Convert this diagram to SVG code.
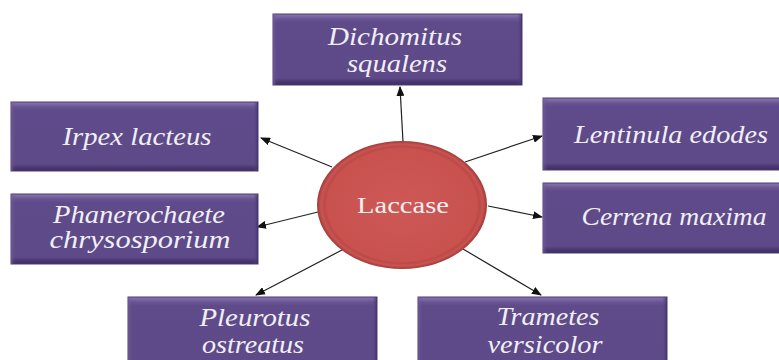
<svg xmlns="http://www.w3.org/2000/svg" width="779" height="360" viewBox="0 0 779 360">
<defs>
<linearGradient id="boxg" x1="0" y1="0" x2="0" y2="1">
<stop offset="0" stop-color="#8a78ad"/>
<stop offset="0.07" stop-color="#6a5594"/>
<stop offset="0.12" stop-color="#5f4b89"/>
<stop offset="0.9" stop-color="#5e4a88"/>
<stop offset="0.95" stop-color="#4a3871"/>
<stop offset="1" stop-color="#3c2d5e"/>
</linearGradient>
<linearGradient id="sideg" x1="0" y1="0" x2="1" y2="0">
<stop offset="0" stop-color="#7a68a0" stop-opacity="0.6"/>
<stop offset="0.02" stop-color="#5f4b89" stop-opacity="0"/>
<stop offset="0.98" stop-color="#5f4b89" stop-opacity="0"/>
<stop offset="1" stop-color="#3e2f62" stop-opacity="0.8"/>
</linearGradient>
<radialGradient id="ellg" cx="0.5" cy="0.5" r="0.5">
<stop offset="0" stop-color="#cd5856"/>
<stop offset="0.88" stop-color="#c9524f"/>
<stop offset="0.91" stop-color="#bd4946"/>
<stop offset="0.95" stop-color="#c85553"/>
<stop offset="1" stop-color="#a23a38"/>
</radialGradient>
<marker id="arr" markerWidth="10" markerHeight="8" refX="9" refY="4" orient="auto" markerUnits="userSpaceOnUse">
<path d="M0,0 L10,4 L0,8 Z" fill="#111"/>
</marker>
</defs>
<style>
.box{fill:url(#boxg);stroke:#4b3a72;stroke-width:1}
.side{fill:url(#sideg)}
.t{font-family:"Liberation Serif","Times New Roman",serif;font-style:italic;font-size:25px;fill:#f1eff6;text-anchor:middle}
.c{font-family:"Liberation Serif","Times New Roman",serif;font-size:24px;fill:#f6eeee;text-anchor:middle}
.conn line{stroke:#222;stroke-width:1.2;marker-end:url(#arr)}
</style>
<rect width="779" height="360" fill="#ffffff"/>
<g id="connectors" class="conn">
<line x1="403" y1="142" x2="400" y2="87"/>
<line x1="332" y1="167" x2="261" y2="138"/>
<line x1="318" y1="212" x2="257" y2="227"/>
<line x1="342" y1="250" x2="256" y2="295"/>
<line x1="465" y1="162" x2="542" y2="136"/>
<line x1="488" y1="206" x2="542" y2="217"/>
<line x1="463" y1="249" x2="541" y2="295"/>
</g>
<g id="laccase">
<ellipse cx="402" cy="205" rx="85" ry="64" fill="url(#ellg)"/>
<text class="c" x="403" y="213" textLength="92" lengthAdjust="spacingAndGlyphs">Laccase</text>
</g>
<g id="dichomitus">
<rect class="box" x="273" y="14" width="249" height="71"/>
<rect class="side" x="273" y="14" width="249" height="71"/>
<text class="t" x="395" y="45" textLength="134" lengthAdjust="spacingAndGlyphs">Dichomitus</text>
<text class="t" x="397" y="72" textLength="100" lengthAdjust="spacingAndGlyphs">squalens</text>
</g>
<g id="irpex">
<rect class="box" x="11" y="102" width="247" height="69"/>
<rect class="side" x="11" y="102" width="247" height="69"/>
<text class="t" x="137" y="145" textLength="149" lengthAdjust="spacingAndGlyphs">Irpex lacteus</text>
</g>
<g id="phanerochaete">
<rect class="box" x="11" y="194" width="247" height="70"/>
<rect class="side" x="11" y="194" width="247" height="70"/>
<text class="t" x="139" y="223" textLength="172" lengthAdjust="spacingAndGlyphs">Phanerochaete</text>
<text class="t" x="140" y="248" textLength="181" lengthAdjust="spacingAndGlyphs">chrysosporium</text>
</g>
<g id="lentinula">
<rect class="box" x="543" y="98" width="250" height="72"/>
<rect class="side" x="543" y="98" width="250" height="72"/>
<text class="t" x="671" y="143" textLength="194" lengthAdjust="spacingAndGlyphs">Lentinula edodes</text>
</g>
<g id="cerrena">
<rect class="box" x="543" y="183" width="250" height="70"/>
<rect class="side" x="543" y="183" width="250" height="70"/>
<text class="t" x="674" y="225" textLength="185" lengthAdjust="spacingAndGlyphs">Cerrena maxima</text>
</g>
<g id="pleurotus">
<rect class="box" x="128" y="297" width="249" height="72"/>
<rect class="side" x="128" y="297" width="249" height="72"/>
<text class="t" x="255" y="326" textLength="111" lengthAdjust="spacingAndGlyphs">Pleurotus</text>
<text class="t" x="253" y="353" textLength="102" lengthAdjust="spacingAndGlyphs">ostreatus</text>
</g>
<g id="trametes">
<rect class="box" x="418" y="297" width="249" height="72"/>
<rect class="side" x="418" y="297" width="249" height="72"/>
<text class="t" x="548" y="325" textLength="103" lengthAdjust="spacingAndGlyphs">Trametes</text>
<text class="t" x="545" y="353" textLength="115" lengthAdjust="spacingAndGlyphs">versicolor</text>
</g>
</svg>
